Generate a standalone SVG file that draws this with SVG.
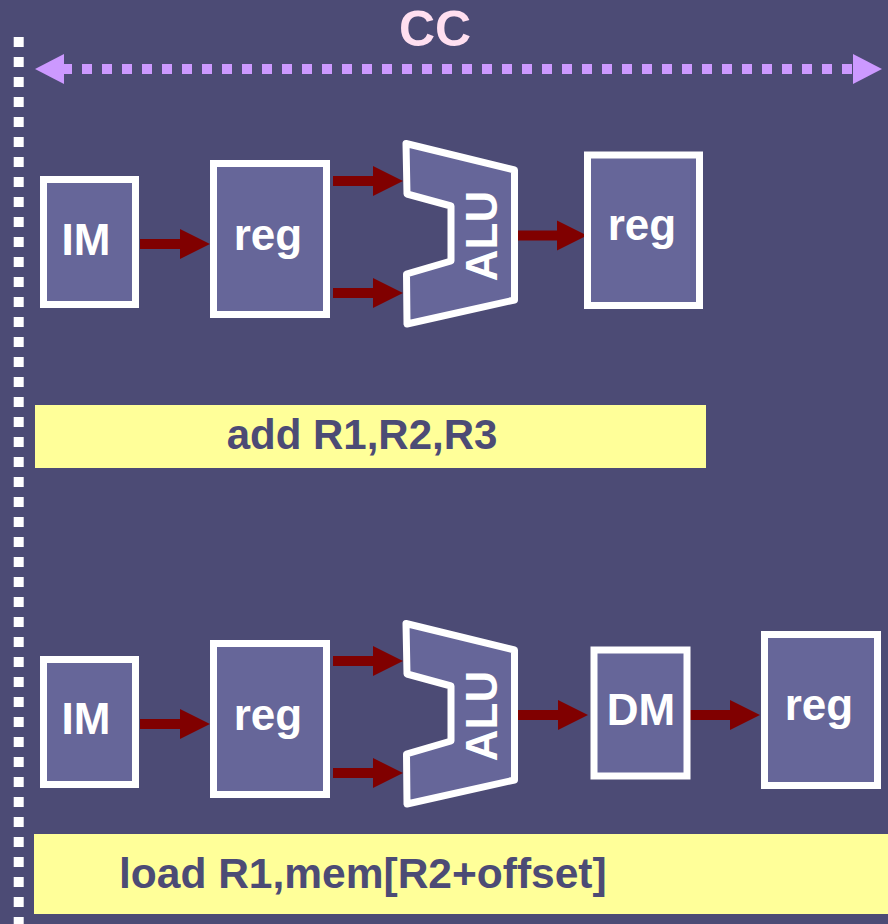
<svg xmlns="http://www.w3.org/2000/svg" width="888" height="924" viewBox="0 0 888 924">
<style>
.box{fill:#666699;stroke:#ffffff;stroke-width:7}
.alu{fill:#666699;stroke:#ffffff;stroke-width:7;stroke-linejoin:round}
.lbl{font-family:"Liberation Sans",Arial,sans-serif;font-weight:bold;font-size:44px;fill:#ffffff;text-anchor:middle}
.ins{font-family:"Liberation Sans",Arial,sans-serif;font-weight:bold;font-size:42px;fill:#4c4b75}
.bar{fill:#ffff99}
.conn{stroke:#800000;stroke-width:10;fill:none;marker-end:url(#ah)}
</style>
<defs>
<marker id="ah" markerUnits="userSpaceOnUse" markerWidth="30" markerHeight="30" refX="0" refY="15" orient="auto" overflow="visible">
<path d="M0,0 L30,15 L0,30 z" fill="#800000"/>
</marker>
</defs>
<rect x="0" y="0" width="888" height="924" fill="#4c4b75"/>
<g id="timeline">
<line x1="18.7" y1="37" x2="18.7" y2="930" stroke="#ffffff" stroke-width="10" stroke-dasharray="10 10"/>
</g>
<g id="cc">
<line x1="62" y1="69" x2="852" y2="69" stroke="#cc99ff" stroke-width="10" stroke-dasharray="10 10"/>
<polygon points="35,69 64,54 64,84" fill="#cc99ff"/>
<polygon points="882,69 853,54 853,84" fill="#cc99ff"/>
<text x="435" y="46" font-family="Liberation Sans,Arial,sans-serif" font-weight="bold" font-size="50" fill="#ffdff0" text-anchor="middle">CC</text>
</g>
<g id="connectors">
<line class="conn" x1="140" y1="244" x2="180" y2="244"/>
<line class="conn" x1="333" y1="181" x2="373" y2="181"/>
<line class="conn" x1="333" y1="293" x2="373" y2="293"/>
<line class="conn" x1="517" y1="235.5" x2="557" y2="235.5"/>
<line class="conn" x1="140" y1="724" x2="180" y2="724"/>
<line class="conn" x1="333" y1="661" x2="373" y2="661"/>
<line class="conn" x1="333" y1="773" x2="373" y2="773"/>
<line class="conn" x1="517" y1="715" x2="558" y2="715"/>
<line class="conn" x1="690" y1="715" x2="730" y2="715"/>
</g>
<g id="im1"><rect class="box" x="43.5" y="179.5" width="92" height="125"/><text class="lbl" x="86" y="255">IM</text></g>
<g id="reg1"><rect class="box" x="213.5" y="163.5" width="113" height="151"/><text class="lbl" x="268" y="250">reg</text></g>
<g id="alu1"><polygon class="alu" points="406,143.5 514.5,170 514.5,300 407,324 406.5,274 451,261 451,206 407,194"/><text class="lbl" transform="translate(497,236) rotate(-90)">ALU</text></g>
<g id="reg2"><rect class="box" x="587.5" y="155" width="112" height="150.5"/><text class="lbl" x="642" y="240">reg</text></g>
<g id="bar1"><rect class="bar" x="35" y="405" width="671" height="63"/><text class="ins" x="362" y="449" text-anchor="middle">add R1,R2,R3</text></g>
<g id="im2"><rect class="box" x="43.5" y="659.5" width="92" height="125"/><text class="lbl" x="86" y="734">IM</text></g>
<g id="reg3"><rect class="box" x="213.5" y="643.5" width="113" height="151"/><text class="lbl" x="268" y="730">reg</text></g>
<g id="alu2"><polygon class="alu" points="406,623.5 514.5,650 514.5,780 407,804 406.5,754 451,741 451,686 407,674"/><text class="lbl" transform="translate(497,716) rotate(-90)">ALU</text></g>
<g id="dm"><rect class="box" x="594" y="650" width="93" height="126"/><text class="lbl" x="641" y="725">DM</text></g>
<g id="reg4"><rect class="box" x="764.5" y="634.5" width="113" height="151"/><text class="lbl" x="819" y="720">reg</text></g>
<g id="bar2"><rect class="bar" x="34" y="834" width="854" height="80"/><text class="ins" x="119" y="888" style="font-size:42.5px">load R1,mem[R2+offset]</text></g>
</svg>
